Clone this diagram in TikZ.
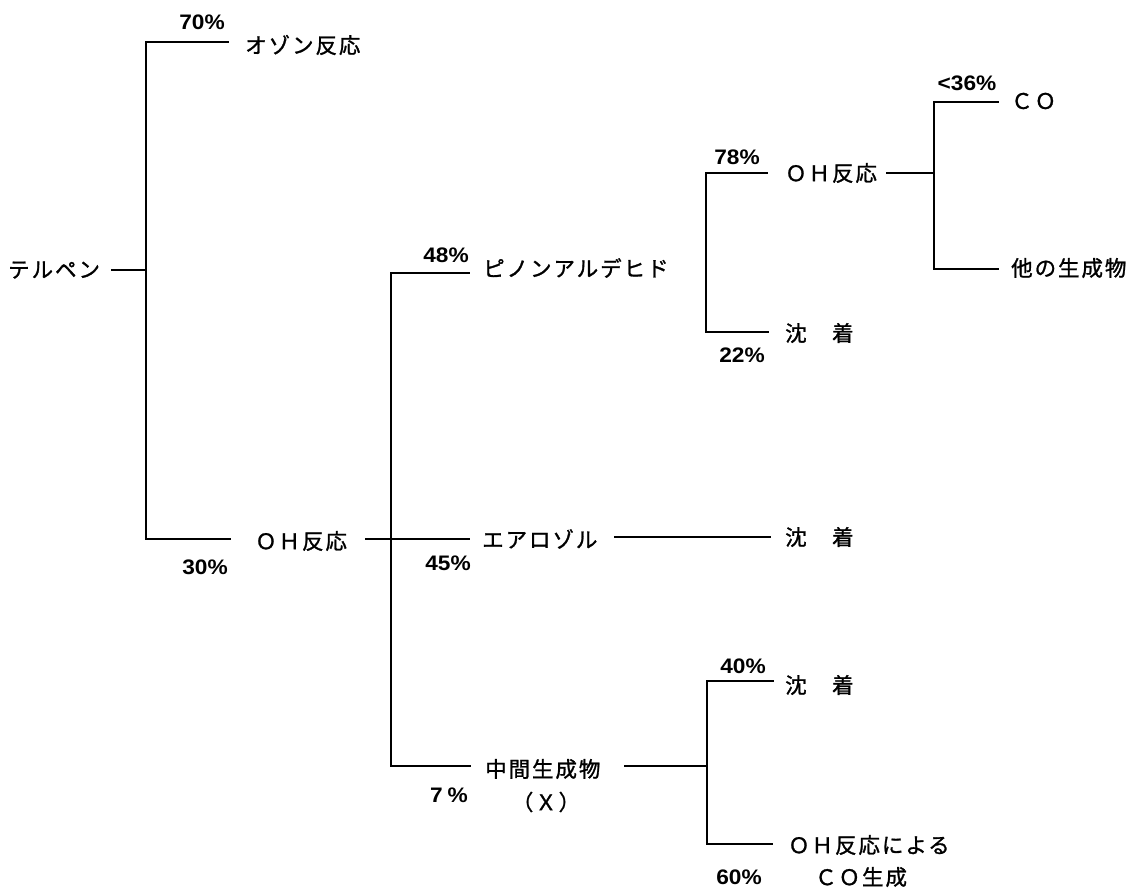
\documentclass[tikz,border=0pt]{standalone}
\usepackage{fontspec}
\newfontfamily\jp{Noto Sans CJK JP}[LetterSpace=9, FakeBold=1.2]
\newfontfamily\pcf{Liberation Sans}[FakeStretch=1.08]
\begin{document}
\begin{tikzpicture}[x=1pt,y=-1pt,
  ln/.style={line width=1.6pt, line cap=rect},
  jtxt/.style={anchor=west, inner sep=0pt, font=\jp\fontsize{21.5}{24}\selectfont},
  jc/.style={anchor=center, inner sep=0pt, font=\jp\fontsize{21.5}{24}\selectfont},
  pct/.style={anchor=center, inner sep=0pt, font=\pcf\bfseries\fontsize{21}{24}\selectfont}]
\fill[white] (0,0) rectangle (1139,889);
\useasboundingbox (0,0) rectangle (1139,889);

% ---- text nodes ----
\node[jtxt] (terp)   at (8,270)   {テルペン};
\node[jtxt] (ozone)  at (245,45)  {オゾン反応};
\node[jtxt] (oh1)    at (255,541) {ＯＨ反応};
\node[jtxt] (pinon)  at (483,268) {ピノンアルデヒド};
\node[jtxt] (aero)   at (482,539) {エアロゾル};
\node[jtxt] (inter)  at (485,769) {中間生成物};
\node[jc]   (interx) at (546,802) {（Ｘ）};
\node[jtxt] (oh2)    at (785,173) {ＯＨ反応};
\node[jtxt] (dep1)   at (785,333) {沈　着};
\node[jtxt] (co)     at (1011,101){ＣＯ};
\node[jtxt] (other)  at (1011,268){他の生成物};
\node[jtxt] (dep2)   at (785,537) {沈　着};
\node[jtxt] (dep3)   at (785,685) {沈　着};
\node[jtxt] (ohco)   at (788,845) {ＯＨ反応による};
\node[jtxt] (coform) at (815,877) {ＣＯ生成};

% ---- percentage labels ----
\node[pct] (p70) at (202,22)  {70\%};
\node[pct] (p30) at (205,567) {30\%};
\node[pct] (p48) at (446,255) {48\%};
\node[pct] (p45) at (448,563) {45\%};
\node[pct] (p7)  at (449,795) {7\hspace{5pt}\%};
\node[pct] (p78) at (737,157) {78\%};
\node[pct] (p22) at (742,355) {22\%};
\node[pct] (p36) at (967,83)  {<36\%};
\node[pct] (p40) at (743,666) {40\%};
\node[pct] (p60) at (739,877) {60\%};

% ---- junction / end coordinates ----
\coordinate (a0) at (112,270);  \coordinate (aj) at (146,270);
\coordinate (at) at (146,42);   \coordinate (ate) at (228,42);
\coordinate (ab) at (146,539);  \coordinate (abe) at (230,539);
\coordinate (b0) at (366,539);  \coordinate (bj) at (391,539); \coordinate (b1) at (469,539);
\coordinate (bt) at (391,273);  \coordinate (bte) at (469,273);
\coordinate (bb) at (391,766);  \coordinate (bbe) at (470,766);
\coordinate (e0) at (615,537);  \coordinate (e1) at (770,537);
\coordinate (c0) at (625,766);  \coordinate (cj) at (707,766);
\coordinate (ct) at (707,681);  \coordinate (cte) at (773,681);
\coordinate (cb) at (707,844);  \coordinate (cbe) at (772,844);
\coordinate (dt) at (706,173);  \coordinate (dte) at (767,173);
\coordinate (db) at (706,332);  \coordinate (dbe) at (768,332);
\coordinate (f0) at (887,173);  \coordinate (fj) at (934,173);
\coordinate (ft) at (934,102);  \coordinate (fte) at (998,102);
\coordinate (fb) at (934,269);  \coordinate (fbe) at (998,269);

% ---- connectors ----
\draw[ln] (a0) -- (aj);
\draw[ln] (ate) -- (at) -- (ab) -- (abe);
\draw[ln] (b0) -- (b1);
\draw[ln] (bte) -- (bt) -- (bb) -- (bbe);
\draw[ln] (e0) -- (e1);
\draw[ln] (c0) -- (cj);
\draw[ln] (cte) -- (ct) -- (cb) -- (cbe);
\draw[ln] (dte) -- (dt) -- (db) -- (dbe);
\draw[ln] (f0) -- (fj);
\draw[ln] (fte) -- (ft) -- (fb) -- (fbe);
\end{tikzpicture}
\end{document}
